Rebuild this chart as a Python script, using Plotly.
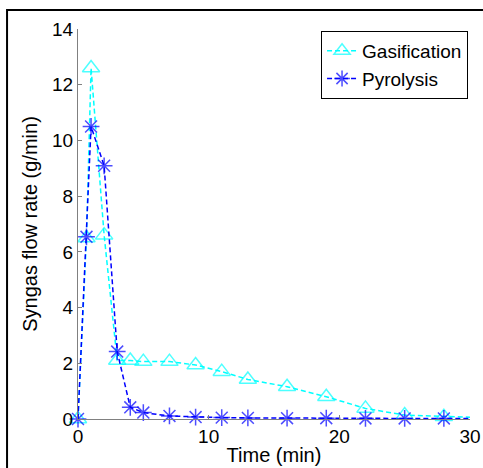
import plotly.graph_objects as go

time_gas = [0, 0.65, 1, 2, 3, 4, 5, 7, 9, 11, 13, 16, 19, 22, 25, 28, 31]
gasification = [0, 6.5, 12.6, 6.6, 2.1, 2.1, 2.06, 2.06, 1.94, 1.7, 1.42, 1.16, 0.8, 0.38, 0.14, 0.08, 0.05]
time_pyr = [0, 0.65, 1, 2, 3, 4, 5, 7, 9, 11, 13, 16, 19, 22, 25, 28, 31]
pyrolysis = [0, 6.54, 10.5, 9.09, 2.42, 0.42, 0.23, 0.11, 0.07, 0.05, 0.04, 0.03, 0.03, 0.02, 0.02, 0.02, 0.02]

x_ticks = [0, 10, 20, 30]
y_ticks = [0, 2, 4, 6, 8, 10, 12, 14]

FONT = "Liberation Sans, Arial, sans-serif"

def sizes(n, s):
    return [s] * (n - 1) + [0]

fig = go.Figure()
fig.add_trace(go.Scatter(
    x=time_gas, y=gasification, name="Gasification", mode="lines+markers",
    line=dict(color="#00FFFF", width=1.5, dash="5px,3px"),
    marker=dict(symbol="triangle-up-open", size=sizes(len(time_gas), 15),
                color="#00FFFF", line=dict(width=1.5, color="#00FFFF")),
    cliponaxis=False,
))
fig.add_trace(go.Scatter(
    x=time_pyr, y=pyrolysis, name="Pyrolysis", mode="lines+markers",
    line=dict(color="#0000FF", width=1.5, dash="5px,3px"),
    marker=dict(symbol="asterisk-open", size=sizes(len(time_pyr), 14),
                color="#0000FF", line=dict(width=1.5, color="#0000FF")),
    cliponaxis=False,
))

fig.update_layout(
    width=483, height=468,
    margin=dict(l=78, r=13, t=29, b=49),
    paper_bgcolor="white", plot_bgcolor="white",
    font=dict(family=FONT, color="black", size=19),
    showlegend=True,
    legend=dict(
        x=0.995, y=0.995, xanchor="right", yanchor="top",
        bordercolor="black", borderwidth=1, bgcolor="white",
        font=dict(size=19, family=FONT), itemwidth=30,
        tracegroupgap=0,
    ),
    xaxis=dict(
        range=[0, 30], tickvals=x_ticks, ticktext=[str(v) for v in x_ticks],
        ticks="inside", ticklen=4, tickcolor="#808080",
        showline=True, linecolor="#808080", linewidth=1.3,
        showgrid=False, zeroline=False, automargin=False,
        tickfont=dict(size=19, family=FONT),
        title=dict(text="Time (min)", font=dict(size=20, family=FONT), standoff=2),
    ),
    yaxis=dict(
        range=[0, 14], tickvals=y_ticks, ticktext=[str(v) for v in y_ticks],
        ticks="inside", ticklen=4, tickcolor="#808080",
        showline=True, linecolor="#808080", linewidth=1.3,
        showgrid=False, zeroline=False, automargin=False,
        tickfont=dict(size=19, family=FONT),
        title=dict(text="Syngas flow rate (g/min)", font=dict(size=20, family=FONT), standoff=8),
    ),
    shapes=[dict(
        type="rect", xref="paper", yref="paper",
        x0=-0.181, y0=-0.3, x1=1.2, y1=1.0487,
        line=dict(color="black", width=2), layer="above",
    )],
)

fig.write_html("out.html", config={"displayModeBar": False},
               post_script="document.body.style.margin='0';")
